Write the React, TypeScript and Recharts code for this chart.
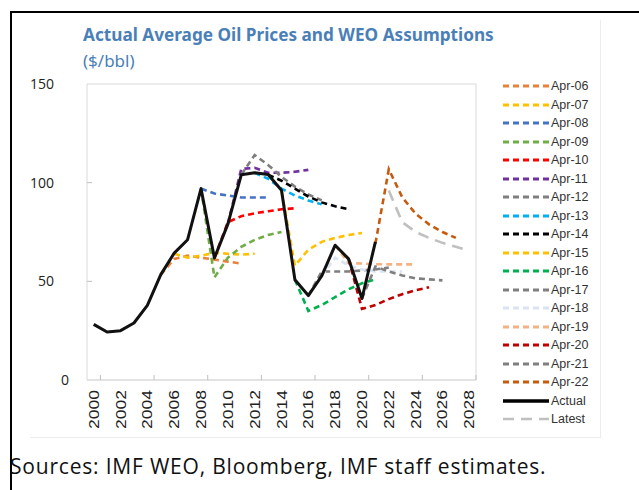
import { LineChart, Line, XAxis, YAxis, ReferenceArea } from 'recharts';

// forecast vintages: first year + yearly values ($/bbl)
const vintageNames = ['Apr-06', 'Apr-07', 'Apr-08', 'Apr-09', 'Apr-10', 'Apr-11', 'Apr-12', 'Apr-13', 'Apr-14', 'Apr-15', 'Apr-16', 'Apr-17', 'Apr-18', 'Apr-19', 'Apr-20', 'Apr-21', 'Apr-22'];
const vintageStart = [2005, 2006, 2008, 2008, 2009, 2010, 2011, 2012, 2013, 2014, 2015, 2016, 2017, 2018, 2019, 2020, 2021];
const apr06 = [53.4, 61.3, 63, 62, 61, 60, 59];
const apr07 = [64, 62, 63, 64.5, 64, 63.5, 64];
const apr08 = [97, 94.5, 93.5, 92.5, 92.5, 92.5];
const apr09 = [97, 52, 62, 67.5, 71, 73.5, 75];
const apr10 = [61.8, 80, 83, 84.5, 85.5, 86.5, 87];
const apr11 = [79, 107, 107.5, 105, 105, 105.5, 106.5];
const apr12 = [104, 114, 109, 103, 98, 94, 91];
const apr13 = [105, 102, 97, 93.5, 91, 89];
const apr14 = [104, 101, 97, 93, 90, 88, 86.5];
const apr15 = [96, 58, 66, 70, 72, 73.5, 74.5];
const apr16 = [50.8, 35, 38, 42, 46, 49, 51];
const apr17 = [42.8, 55, 55, 55, 55.5, 56, 57];
const apr18 = [52.8, 62, 58, 56, 55, 55, 55];
const apr19 = [68.3, 59.2, 59, 58.7, 58.6, 58.6, 58.6];
const apr20 = [61.4, 36, 38, 41, 43.5, 45.5, 47];
const apr21 = [41.3, 57.5, 55, 53, 51.5, 51, 50.5];
const apr22 = [69.1, 106.8, 92.6, 84.2, 78.9, 75, 72];
const vintageValues = [apr06, apr07, apr08, apr09, apr10, apr11, apr12, apr13, apr14, apr15, apr16, apr17, apr18, apr19, apr20, apr21, apr22];
const vintageColors = ['#e8823a', '#ffc000', '#4472c4', '#70ad47', '#ff0000', '#7030a0', '#7f7f7f', '#00b0f0', '#000000', '#ffc000', '#00b050', '#7f7f7f', '#dae3f3', '#f4b183', '#c00000', '#7f7f7f', '#c55a11'];

const actualStart = 2000;
const actual = [28.2, 24.3, 25, 28.9, 37.8, 53.4, 64.3, 71.1, 97, 61.8, 79, 104, 105, 104.1, 96.2, 50.8, 42.8, 52.8, 68.3, 61.4, 41.3, 70];
const latestStart = 2022;
const latest = [96, 80, 75, 72, 69.5, 67.5, 65.5];

const yearLabels = [2000, 2002, 2004, 2006, 2008, 2010, 2012, 2014, 2016, 2018, 2020, 2022, 2024, 2026, 2028];
const catEdges = Array.from({ length: 30 }, (_, i) => 1999.5 + i);
const yTicks = [0, 50, 100, 150];

const toPoints = (start: number, vals: number[]) => vals.map((v, i) => ({ year: start + i, v }));

const FORECAST_DASH = '6 4';
const LATEST_DASH = '11 7';

function YTick(props: any) {
  const { x, y, payload } = props;
  // the zero label sits further right in the original
  const tx = payload.value === 0 ? x + 15 : x;
  return (
    <g>
      <text x={tx} y={y} dy={5} textAnchor="end" fontSize={14} fill="#222" fontFamily="'Open Sans', sans-serif">
        {payload.value}
      </text>
      {payload.value > 0 && payload.value < 150 && (
        <line x1={x + 33} x2={x + 38} y1={y} y2={y} stroke="#bfbfbf" />
      )}
    </g>
  );
}

function YearTick(props: any) {
  const { x, y, payload } = props;
  return (
    <text
      x={x + 5}
      y={y}
      transform={`rotate(-90, ${x + 5}, ${y})`}
      textAnchor="end"
      fontSize={14}
      fill="#222"
      fontFamily="'Liberation Sans', Arial, sans-serif"
      textLength={39}
      lengthAdjust="spacingAndGlyphs"
    >
      {payload.value}
    </text>
  );
}

const legendItems = [
  ...vintageNames.map((n, i) => ({ name: n, color: vintageColors[i], dash: FORECAST_DASH, width: 3 })),
  { name: 'Actual', color: '#000000', dash: undefined, width: 3.5 },
  { name: 'Latest', color: '#c0c0c0', dash: LATEST_DASH, width: 2.5 },
];

function OilLegend() {
  return (
    <div style={{ position: 'absolute', left: 502, top: 77 }}>
      {legendItems.map((it) => (
        <div key={it.name} style={{ display: 'flex', alignItems: 'center', height: 18.5 }}>
          <svg width={48} height={18}>
            <line x1={1} x2={47} y1={9} y2={9} stroke={it.color} strokeWidth={it.width} strokeDasharray={it.dash} />
          </svg>
          <span style={{ fontFamily: "'Liberation Sans', Arial, sans-serif", fontSize: 12.5, color: '#333', marginLeft: 1 }}>
            {it.name}
          </span>
        </div>
      ))}
    </div>
  );
}

export default function App() {
  return (
    <div style={{ position: 'absolute', left: 0, top: 0, width: 639, height: 490, background: '#fff', overflow: 'hidden' }}>
      {/* outer frame */}
      <div style={{ position: 'absolute', left: 10, top: 11, width: 700, height: 600, borderTop: '2px solid #000', borderLeft: '2px solid #000' }} />
      {/* pasted chart edge */}
      <div style={{ position: 'absolute', left: 30, top: 20, width: 570, height: 417, borderRight: '1px solid #ececec', borderBottom: '1px solid #ececec' }} />

      <div style={{ position: 'absolute', left: 83, top: 23, color: '#4a7fb8', fontFamily: "'Noto Sans', sans-serif", fontSize: 17.2, fontWeight: 700, whiteSpace: 'nowrap' }}>
        Actual Average Oil Prices and WEO Assumptions
      </div>
      <div style={{ position: 'absolute', left: 83, top: 49, color: '#4a7fb8', fontFamily: "'Noto Sans', sans-serif", fontSize: 17 }}>
        ($/bbl)
      </div>

      <div style={{ position: 'absolute', left: 0, top: 0 }}>
        <LineChart width={639} height={490} margin={{ top: 84, right: 163, bottom: 0, left: 0 }}>
          <XAxis
            xAxisId="edges"
            dataKey="year"
            type="number"
            domain={[1999.5, 2028.5]}
            ticks={catEdges}
            allowDataOverflow
            height={1}
            mirror
            tickSize={5}
            axisLine={{ stroke: '#d9d9d9' }}
            tickLine={{ stroke: '#bfbfbf' }}
            tick={() => <g />}
          />
          <XAxis
            xAxisId="main"
            dataKey="year"
            type="number"
            domain={[1999.5, 2028.5]}
            ticks={yearLabels}
            interval={0}
            allowDataOverflow
            height={110}
            axisLine={false}
            tickLine={false}
            tickSize={0}
            tickMargin={10}
            tick={<YearTick />}
          />
          <YAxis
            type="number"
            domain={[0, 150]}
            ticks={yTicks}
            width={87}
            axisLine={false}
            tickLine={false}
            tickSize={0}
            tickMargin={33}
            tick={<YTick />}
          />
          <ReferenceArea xAxisId="main" x1={1999.5} x2={2028.5} y1={0} y2={150} fill="none" stroke="#d9d9d9" strokeWidth={1} ifOverflow="visible" />
          {vintageNames.map((n, i) => (
            <Line
              key={n}
              xAxisId="main"
              name={n}
              data={toPoints(vintageStart[i], vintageValues[i])}
              dataKey="v"
              type="linear"
              stroke={vintageColors[i]}
              strokeWidth={2.6}
              strokeDasharray={FORECAST_DASH}
              dot={false}
              activeDot={false}
              isAnimationActive={false}
            />
          ))}
          <Line
            xAxisId="main"
            name="Actual"
            data={toPoints(actualStart, actual)}
            dataKey="v"
            type="linear"
            stroke="#111"
            strokeWidth={3}
            strokeLinejoin="round"
            dot={false}
            activeDot={false}
            isAnimationActive={false}
          />
          <Line
            xAxisId="main"
            name="Latest"
            data={toPoints(latestStart, latest)}
            dataKey="v"
            type="linear"
            stroke="#c0c0c0"
            strokeWidth={2.6}
            strokeDasharray={LATEST_DASH}
            dot={false}
            activeDot={false}
            isAnimationActive={false}
          />
        </LineChart>
      </div>

      <OilLegend />

      <div style={{ position: 'absolute', left: 10, top: 452, fontFamily: "'Open Sans', sans-serif", fontSize: 21, letterSpacing: 0.8, color: '#111', whiteSpace: 'nowrap' }}>
        Sources: IMF WEO, Bloomberg, IMF staff estimates.
      </div>
    </div>
  );
}
